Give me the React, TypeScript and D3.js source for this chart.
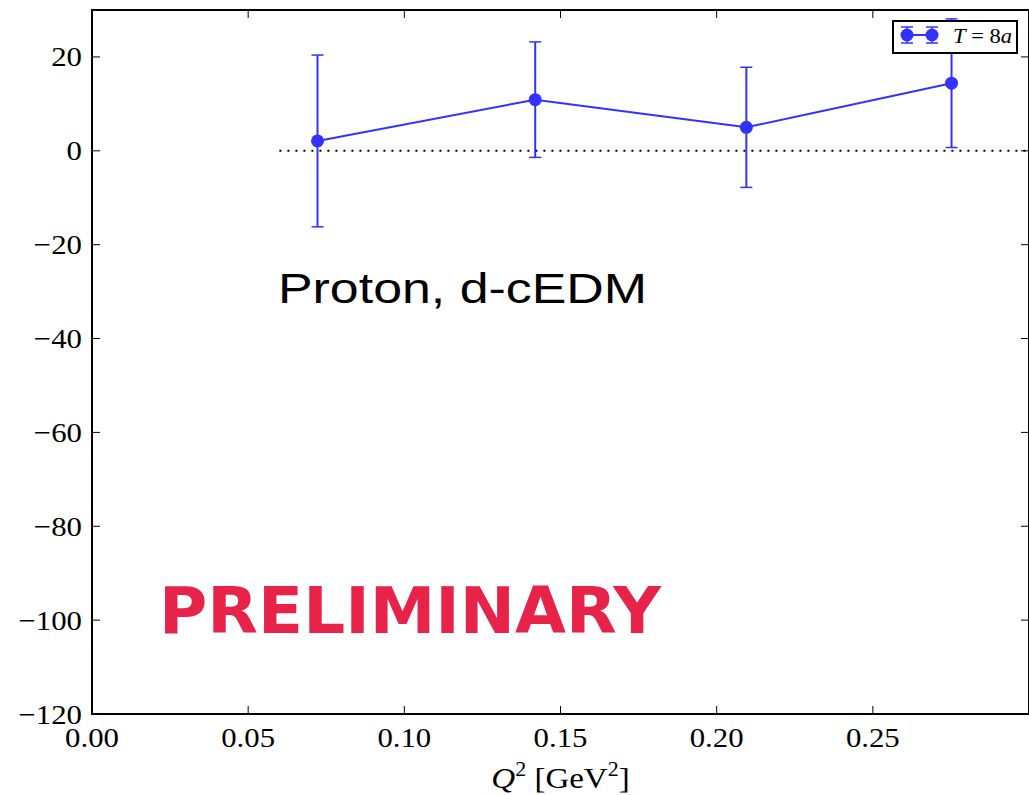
import React, { useEffect, useRef } from "react";
import * as d3 from "d3";

// Q^2 values (GeV^2), central values and symmetric errors for T = 8a
const q2Values = [0.0722, 0.1419, 0.2095, 0.2752];
const centralValues = [2.1, 10.9, 5.0, 14.4];
const errorValues = [18.3, 12.3, 12.8, 13.7];

const xTicks = [0.0, 0.05, 0.1, 0.15, 0.2, 0.25];
const yTicks = [-120, -100, -80, -60, -40, -20, 0, 20];

const WIDTH = 1029;
const HEIGHT = 795;
const margin = { left: 92, right: 0, top: 10, bottom: 81 };

const SERIES_COLOR = "#0000ff";
const SERIES_ALPHA = 0.8;

export default function App() {
  const ref = useRef<SVGSVGElement | null>(null);

  useEffect(() => {
    const svg = d3.select(ref.current);
    svg.selectAll("*").remove();

    const x = d3
      .scaleLinear()
      .domain([0, 0.3])
      .range([margin.left, WIDTH - margin.right]);
    const y = d3
      .scaleLinear()
      .domain([-120, 30])
      .range([HEIGHT - margin.bottom, margin.top]);

    const serif = "'Liberation Serif', 'Times New Roman', serif";
    const x0 = x.range()[0];
    const x1 = x.range()[1];
    const y0 = y.range()[0];
    const y1 = y.range()[1];

    // zero reference line
    svg
      .append("line")
      .attr("x1", x(0.06))
      .attr("x2", x(0.3))
      .attr("y1", y(0))
      .attr("y2", y(0))
      .attr("stroke", "#000")
      .attr("stroke-width", 2)
      .attr("stroke-dasharray", "2,6");

    const data = q2Values.map((q, i) => ({
      q,
      v: centralValues[i],
      e: errorValues[i],
    }));

    const g = svg.append("g").attr("opacity", SERIES_ALPHA);

    // connecting line
    g.append("path")
      .datum(data)
      .attr("fill", "none")
      .attr("stroke", SERIES_COLOR)
      .attr("stroke-width", 2)
      .attr(
        "d",
        d3
          .line<{ q: number; v: number }>()
          .x((d) => x(d.q))
          .y((d) => y(d.v))
      );

    // error bars
    const eb = g.selectAll("g.eb").data(data).enter().append("g");
    eb.append("line")
      .attr("x1", (d) => x(d.q))
      .attr("x2", (d) => x(d.q))
      .attr("y1", (d) => y(d.v - d.e))
      .attr("y2", (d) => y(d.v + d.e))
      .attr("stroke", SERIES_COLOR)
      .attr("stroke-width", 2);
    [-1, 1].forEach((s) => {
      eb.append("line")
        .attr("x1", (d) => x(d.q) - 6)
        .attr("x2", (d) => x(d.q) + 6)
        .attr("y1", (d) => y(d.v + s * d.e))
        .attr("y2", (d) => y(d.v + s * d.e))
        .attr("stroke", SERIES_COLOR)
        .attr("stroke-width", 1.5);
    });
    eb.append("circle")
      .attr("cx", (d) => x(d.q))
      .attr("cy", (d) => y(d.v))
      .attr("r", 6.5)
      .attr("fill", SERIES_COLOR);

    // frame
    svg
      .append("rect")
      .attr("x", x0)
      .attr("y", y1)
      .attr("width", x1 - x0)
      .attr("height", y0 - y1)
      .attr("fill", "none")
      .attr("stroke", "#000")
      .attr("stroke-width", 2);

    // horizontally widened serif label
    const tickLabel = (
      px: number,
      py: number,
      anchor: string,
      txt: string
    ) => {
      svg
        .append("g")
        .attr("transform", `translate(${px},${py}) scale(1.1,1)`)
        .append("text")
        .attr("text-anchor", anchor)
        .attr("font-family", serif)
        .attr("font-size", 28)
        .text(txt);
    };

    // ticks (inward on all four sides)
    const tickLen = 8;
    xTicks.forEach((t) => {
      svg
        .append("line")
        .attr("x1", x(t))
        .attr("x2", x(t))
        .attr("y1", y0)
        .attr("y2", y0 - tickLen)
        .attr("stroke", "#000")
        .attr("stroke-width", 1);
      svg
        .append("line")
        .attr("x1", x(t))
        .attr("x2", x(t))
        .attr("y1", y1)
        .attr("y2", y1 + tickLen)
        .attr("stroke", "#000")
        .attr("stroke-width", 1);
      tickLabel(x(t), y0 + 33, "middle", d3.format(".2f")(t));
    });
    yTicks.forEach((t) => {
      svg
        .append("line")
        .attr("x1", x0)
        .attr("x2", x0 + tickLen)
        .attr("y1", y(t))
        .attr("y2", y(t))
        .attr("stroke", "#000")
        .attr("stroke-width", 1);
      svg
        .append("line")
        .attr("x1", x1)
        .attr("x2", x1 - tickLen)
        .attr("y1", y(t))
        .attr("y2", y(t))
        .attr("stroke", "#000")
        .attr("stroke-width", 1);
      tickLabel(
        x0 - 10,
        y(t) + 9.5,
        "end",
        t < 0 ? "\u2212" + Math.abs(t) : String(t)
      );
    });

    // x axis label
    const xl = svg
      .append("g")
      .attr("transform", `translate(${(x0 + x1) / 2},${HEIGHT - 7}) scale(1.1,1)`)
      .append("text")
      .attr("text-anchor", "middle")
      .attr("font-family", serif)
      .attr("font-size", 30);
    xl.append("tspan").attr("font-style", "italic").text("Q");
    xl.append("tspan").attr("font-size", 20).attr("dy", -12).text("2");
    xl.append("tspan").attr("dy", 12).text(" [GeV");
    xl.append("tspan").attr("font-size", 20).attr("dy", -12).text("2");
    xl.append("tspan").attr("dy", 12).text("]");

    // annotations
    svg
      .append("text")
      .attr("x", 278)
      .attr("y", 303)
      .attr("font-family", "'Liberation Sans', Arial, sans-serif")
      .attr("font-size", 42)
      .attr("fill", "#000")
      .attr("textLength", 369)
      .attr("lengthAdjust", "spacingAndGlyphs")
      .text("Proton, d-cEDM");

    svg
      .append("text")
      .attr("x", 159)
      .attr("y", 633)
      .attr("font-family", "'DejaVu Sans', Verdana, sans-serif")
      .attr("font-weight", "bold")
      .attr("font-size", 64)
      .attr("fill", "#e8234a")
      .attr("textLength", 502)
      .attr("lengthAdjust", "spacingAndGlyphs")
      .text("PRELIMINARY");

    // legend
    const lg = svg.append("g");
    lg.append("rect")
      .attr("x", 893)
      .attr("y", 21)
      .attr("width", 124)
      .attr("height", 32)
      .attr("fill", "#fff")
      .attr("stroke", "#000")
      .attr("stroke-width", 2);
    const lgm = lg.append("g").attr("opacity", SERIES_ALPHA);
    const ly = 35;
    lgm
      .append("line")
      .attr("x1", 907)
      .attr("x2", 932)
      .attr("y1", ly)
      .attr("y2", ly)
      .attr("stroke", SERIES_COLOR)
      .attr("stroke-width", 2);
    [907, 932].forEach((mx) => {
      lgm
        .append("line")
        .attr("x1", mx)
        .attr("x2", mx)
        .attr("y1", ly - 8)
        .attr("y2", ly + 8)
        .attr("stroke", SERIES_COLOR)
        .attr("stroke-width", 1.5);
      [-8, 8].forEach((o) => {
        lgm
          .append("line")
          .attr("x1", mx - 6)
          .attr("x2", mx + 6)
          .attr("y1", ly + o)
          .attr("y2", ly + o)
          .attr("stroke", SERIES_COLOR)
          .attr("stroke-width", 1.5);
      });
      lgm
        .append("circle")
        .attr("cx", mx)
        .attr("cy", ly)
        .attr("r", 6.5)
        .attr("fill", SERIES_COLOR);
    });
    const lt = lg
      .append("text")
      .attr("x", 953)
      .attr("y", 43)
      .attr("font-family", serif)
      .attr("font-size", 21)
      .attr("textLength", 59)
      .attr("lengthAdjust", "spacingAndGlyphs");
    lt.append("tspan").attr("font-style", "italic").text("T");
    lt.append("tspan").text(" = 8");
    lt.append("tspan").attr("font-style", "italic").text("a");
  }, []);

  return (
    <svg
      ref={ref}
      width={WIDTH}
      height={HEIGHT}
      style={{ position: "absolute", left: 0, top: 0, background: "#fff" }}
    />
  );
}
